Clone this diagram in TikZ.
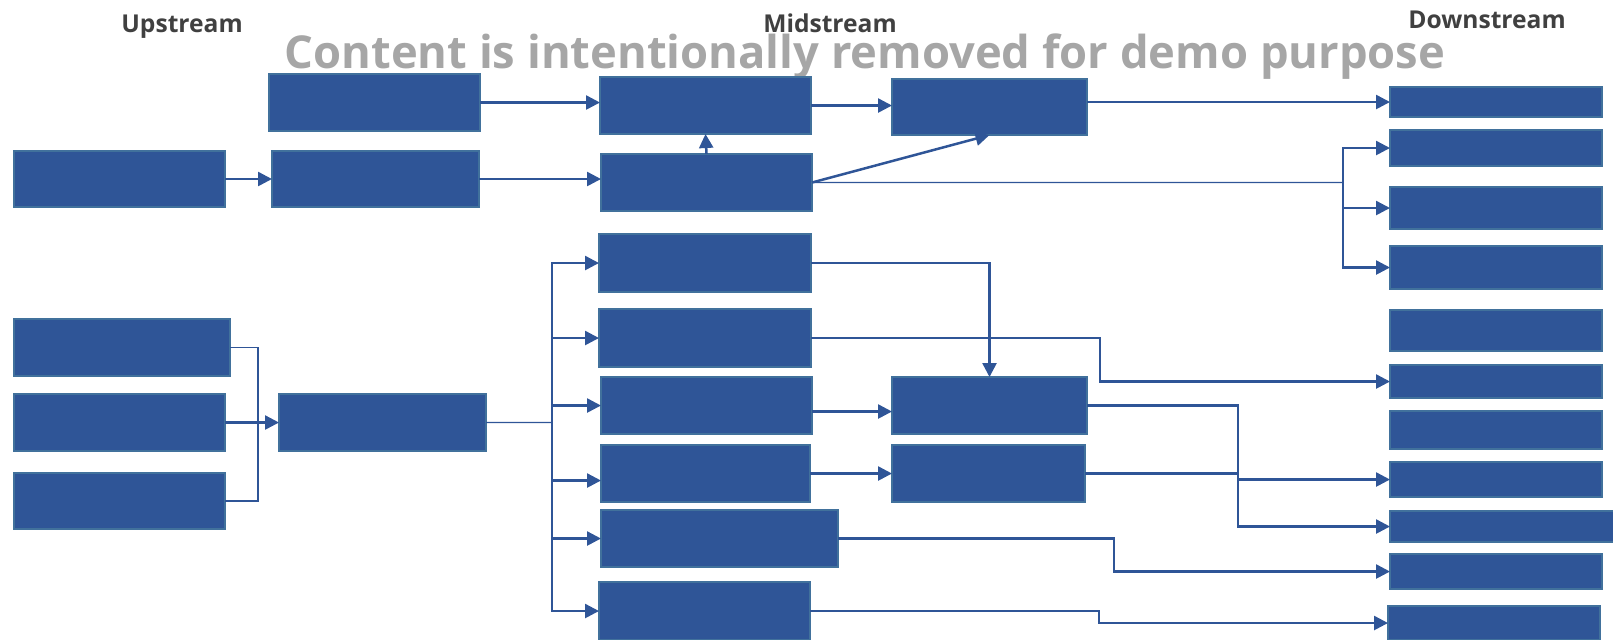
\documentclass[tikz,border=0pt]{standalone}
\usepackage{fontspec}
\setmainfont{Open Sans}
\usepackage{tikz}
\usetikzlibrary{arrows.meta,calc}

\definecolor{boxblue}{HTML}{2F5597}
\definecolor{rimblue}{HTML}{41719C}
\definecolor{headgray}{HTML}{404040}
\definecolor{notegray}{HTML}{A6A6A6}

\tikzset{
	blk/.style={draw=rimblue,fill=boxblue,line width=0.18mm,inner sep=0pt,outer sep=0pt,anchor=north west},
	arr/.style={draw=boxblue,line width=0.25mm,-{Triangle[length=1.4mm,width=1.4mm]}},
	bus/.style={draw=boxblue,line width=0.13mm},
	head/.style={font=\bfseries\fontsize{7}{8}\selectfont,text=headgray,anchor=base},
}

\begin{document}
\begin{tikzpicture}[x=0.1mm,y=-0.1mm]
		\useasboundingbox (0,0) rectangle (1613,639);

		% headings
		\node[head] (hup) at (182,32) {Upstream};
		\node[head] (hmid) at (830,32) {Midstream};
		\node[head] (hdown) at (1487,28) {Downstream};
		\node[font=\bfseries\fontsize{12.9}{15}\selectfont,text=notegray,anchor=base] (note) at (865,68) {Content is intentionally removed for demo purpose};

		% upstream
		\node[blk,minimum width=21.1mm,minimum height=5.6mm] (u1) at (14,151) {};
		\node[blk,minimum width=21.6mm,minimum height=5.7mm] (u2) at (14,319) {};
		\node[blk,minimum width=21.1mm,minimum height=5.7mm] (u3) at (14,394) {};
		\node[blk,minimum width=21.1mm,minimum height=5.6mm] (u4) at (14,473) {};
		\node[blk,minimum width=21.1mm,minimum height=5.7mm] (a1) at (269,74) {};
		\node[blk,minimum width=20.7mm,minimum height=5.6mm] (a2) at (272,151) {};
		\node[blk,minimum width=20.7mm,minimum height=5.7mm] (a3) at (279,394) {};

		% midstream
		\node[blk,minimum width=21.1mm,minimum height=5.7mm] (m1) at (600,77) {};
		\node[blk,minimum width=21.1mm,minimum height=5.7mm] (m2) at (601,154) {};
		\node[blk,minimum width=21.2mm,minimum height=5.8mm] (m3) at (599,234) {};
		\node[blk,minimum width=21.2mm,minimum height=5.8mm] (m4) at (599,309) {};
		\node[blk,minimum width=21.1mm,minimum height=5.7mm] (m5) at (601,377) {};
		\node[blk,minimum width=20.9mm,minimum height=5.7mm] (m6) at (601,445) {};
		\node[blk,minimum width=23.7mm,minimum height=5.7mm] (m7) at (601,510) {};
		\node[blk,minimum width=21.1mm,minimum height=5.8mm] (m8) at (599,582) {};
		\node[blk,minimum width=19.5mm,minimum height=5.6mm] (r1) at (892,79) {};
		\node[blk,minimum width=19.5mm,minimum height=5.7mm] (r2) at (892,377) {};
		\node[blk,minimum width=19.3mm,minimum height=5.7mm] (r3) at (892,445) {};

		% downstream
		\node[blk,minimum width=21.2mm,minimum height=3mm] (d1) at (1390,87) {};
		\node[blk,minimum width=21.2mm,minimum height=3.6mm] (d2) at (1390,130) {};
		\node[blk,minimum width=21.2mm,minimum height=4.2mm] (d3) at (1390,187) {};
		\node[blk,minimum width=21.2mm,minimum height=4.3mm] (d4) at (1390,246) {};
		\node[blk,minimum width=21.2mm,minimum height=4.1mm] (d5) at (1390,310) {};
		\node[blk,minimum width=21.2mm,minimum height=3.3mm] (d6) at (1390,365) {};
		\node[blk,minimum width=21.2mm,minimum height=3.8mm] (d7) at (1390,411) {};
		\node[blk,minimum width=21.2mm,minimum height=3.5mm] (d8) at (1390,462) {};
		\node[blk,minimum width=22.4mm,minimum height=3.1mm] (d9) at (1390,511) {};
		\node[blk,minimum width=21.2mm,minimum height=3.5mm] (d10) at (1390,554) {};
		\node[blk,minimum width=21.2mm,minimum height=3.4mm] (d11) at (1388,606) {};

		% top chain
		\draw[arr] (a1.east) -- (a1.east -| m1.west);
		\draw[arr] (u1.east) -- (a2.west);
		\draw[arr] (a2.east) -- (a2.east -| m2.west);
		\draw[arr] (m2.north) -- (m1.south);
		\draw[arr] (m1.east) -- (m1.east -| r1.west);
		\draw[arr] (m2.east) -- (r1.south);
		\draw[arr] (r1.east |- d1.west) -- (d1.west);

		% fan out to downstream
		\coordinate (fork) at (1343,182.5);
		\draw[bus] (m2.east) -- (fork);
		\foreach \d in {d2,d3,d4} {
			\draw[arr] (fork) |- (\d.west);
		}

		% lower chain
		\coordinate (join) at (258,422.5);
		\draw[bus] (u2.east) -| (join) |- (u4.east);
		\draw[arr] (u3.east) -- (a3.west);
		\coordinate (split) at (552,422.5);
		\draw[bus] (a3.east) -- (split);
		\foreach \m in {m3,m4,m5,m7,m8} {
			\draw[arr] (split) |- (\m.west);
		}
		\draw[arr] (split) |- ([yshift=-0.7mm]m6.west);

		\draw[arr] (m3.east) -| (r2.north);
		\draw[arr] (m4.east) -- ++(289,0) |- (d6.west);
		\draw[arr] ([yshift=-0.6mm]m5.east) -- ([yshift=-0.6mm]m5.east -| r2.west);
		\draw[arr] (m6.east) -- (m6.east -| r3.west);
		\draw[arr] (r2.east) -- ++(151,0) |- (d9.west);
		\draw[arr] (r3.east) -- ++(153,0) |- (d8.west);
		\draw[arr] (m7.east) -- ++(276,0) |- (d10.west);
		\draw[arr] (m8.east) -- ++(289,0) |- (d11.west);
	\end{tikzpicture}
\end{document}
